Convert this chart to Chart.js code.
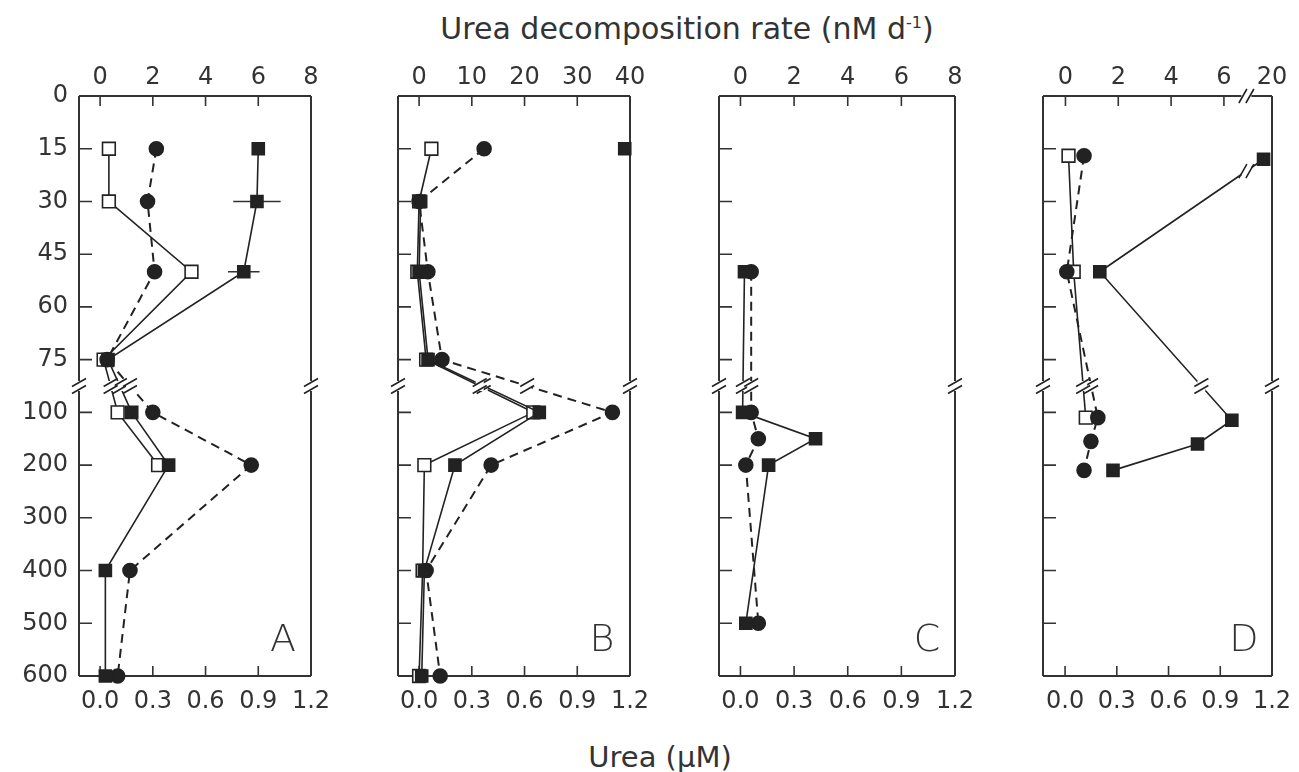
<!DOCTYPE html>
<html>
<head>
<meta charset="utf-8">
<script src="https://cdn.jsdelivr.net/npm/chart.js@4.4.0/dist/chart.umd.min.js"></script>
<style>
  body { margin: 0; background: #fff; width: 1299px; height: 772px; overflow: hidden; position: relative; font-family: "DejaVu Sans", sans-serif; color: #333; }
  .panel { position: absolute; top: 0; }
  .title { position: absolute; font-size: 30px; white-space: nowrap; transform: translate(-50%, -50%); }
  .title.low { font-size: 29px; }
  .title sup { font-size: 16px; }
</style>
</head>
<body>
<div class="title" style="left:687px;top:28px">Urea decomposition rate (nM d<sup>-1</sup>)</div>
<div class="title low" style="left:660px;top:757px">Urea (µM)</div>
<canvas class="panel" id="pA" width="340" height="772" style="left:0px"></canvas>
<canvas class="panel" id="pB" width="320" height="772" style="left:340px"></canvas>
<canvas class="panel" id="pC" width="320" height="772" style="left:660px"></canvas>
<canvas class="panel" id="pD" width="319" height="772" style="left:980px"></canvas>
<script>
// depth axis (broken between 75 and 100 m)
const depthTicks = [0, 15, 30, 45, 60, 75, 100, 200, 300, 400, 500, 600];
const ureaTicks = [0, 0.3, 0.6, 0.9, 1.2];
const rateTicksA = [0, 2, 4, 6, 8];
const rateTicksB = [0, 10, 20, 30, 40];
const rateTicksC = [0, 2, 4, 6, 8];
const rateTicksD = [0, 2, 4, 6, 20];

// A
const depthA = [15, 30, 50, 75, 100, 200, 400, 600];
const openA = [0.05, 0.05, 0.52, 0.02, 0.10, 0.33];
const circleA = [0.32, 0.27, 0.31, 0.04, 0.30, 0.86, 0.17, 0.10];
const rateA = [6.0, 5.95, 5.45, 0.3, 1.2, 2.6, 0.2, 0.2];
const rateErrA = [0, 0.9, 0.6, 0, 0, 0, 0, 0];

// B
const depthB = [15, 30, 50, 75, 100, 200, 400, 600];
const openB = [0.07, 0.0, -0.01, 0.04, 0.65, 0.03, 0.02, 0.0];
const circleB = [0.37, 0.0, 0.05, 0.13, 1.10, 0.41, 0.04, 0.12];
const rateB = [39, 0.3, 0.0, 1.7, 22.8, 6.8, 1.0, 0.5];

// C
const depthC = [50, 100, 150, 200, 500];
const circleC = [0.06, 0.06, 0.10, 0.03, 0.10];
const rateC = [0.15, 0.08, 2.8, 1.05, 0.2];

// D
const depthOpenD = [17, 50, 110];
const openD = [0.02, 0.05, 0.12];
const depthCircleD = [17, 50, 110, 155, 210];
const circleD = [0.11, 0.01, 0.19, 0.15, 0.11];
const depthRateD = [18, 50, 115, 160, 210];
const rateD = [19, 1.3, 6.3, 5.0, 1.8];

const INK = '#222';
const FONT = '"DejaVu Sans", sans-serif';

function depthPos(d) {
  if (d <= 75) return d / 15;
  return 6 + (d - 100) / 100;
}
// D rate axis is broken between 6 and 20
function ratePosD(v) {
  return v <= 7 ? v : 7.82 - (20 - v) * 0.32;
}
const ident = v => v;

function makeSet(depths, vals, kind, axis, posFn, extra) {
  const f = posFn || ident;
  const pts = vals.map((v, i) => ({ x: f(v), y: depthPos(depths[i]) }));
  const s = {
    data: pts, xAxisID: axis, showLine: true, clip: false,
    borderColor: INK, pointBorderColor: INK, borderWidth: 1.6, pointBorderWidth: 1.6
  };
  if (kind === 'open') Object.assign(s, { pointStyle: 'rect', pointRadius: 9, pointBackgroundColor: '#fff' });
  if (kind === 'filled') Object.assign(s, { pointStyle: 'rect', pointRadius: 8.5, pointBackgroundColor: INK });
  if (kind === 'circle') Object.assign(s, { pointStyle: 'circle', pointRadius: 7, pointBackgroundColor: INK, borderDash: [9, 6], borderWidth: 2 });
  return Object.assign(s, extra || {});
}

function breakMarkV(ctx, x, y) {
  ctx.save();
  ctx.fillStyle = '#fff';
  ctx.fillRect(x - 4, y - 5, 8, 10);
  ctx.strokeStyle = INK; ctx.lineWidth = 1.6;
  ctx.beginPath();
  [-3.5, 3.5].forEach(o => { ctx.moveTo(x - 7, y + o + 4); ctx.lineTo(x + 7, y + o - 4); });
  ctx.stroke();
  ctx.restore();
}
function breakMarkH(ctx, x, y) {
  ctx.save();
  ctx.fillStyle = '#fff';
  ctx.fillRect(x - 5, y - 4, 10, 8);
  ctx.strokeStyle = INK; ctx.lineWidth = 1.6;
  ctx.beginPath();
  [-3.5, 3.5].forEach(o => { ctx.moveTo(x + o - 4, y + 7); ctx.lineTo(x + o + 4, y - 7); });
  ctx.stroke();
  ctx.restore();
}

function framePlugin(p) {
  return {
    id: 'frame' + p.letter,
    beforeDatasetsDraw(chart) {
      const { ctx, chartArea: a, scales } = chart;
      const yB = scales.y.getPixelForValue(5.5);
      ctx.save();
      ctx.strokeStyle = '#333'; ctx.lineWidth = 2;
      ctx.beginPath();
      ctx.moveTo(a.left, a.top); ctx.lineTo(a.right, a.top);
      ctx.moveTo(a.left, a.bottom); ctx.lineTo(a.right, a.bottom);
      ctx.moveTo(a.left, a.top); ctx.lineTo(a.left, a.bottom);
      ctx.moveTo(a.right, a.top); ctx.lineTo(a.right, a.bottom);
      ctx.stroke();
      // inward ticks
      ctx.lineWidth = 1.6;
      ctx.beginPath();
      depthTicks.forEach((d, i) => {
        const y = scales.y.getPixelForValue(i);
        ctx.moveTo(a.left, y); ctx.lineTo(a.left + 13, y);
      });
      p.rateTicks.slice(0, 4).forEach(v => {
        const x = scales.x2.getPixelForValue(p.ratePos(v));
        ctx.moveTo(x, a.top); ctx.lineTo(x, a.top + 10);
      });
      ureaTicks.slice(0, 4).forEach(v => {
        const x = scales.x.getPixelForValue(v);
        ctx.moveTo(x, a.bottom); ctx.lineTo(x, a.bottom - 10);
      });
      ctx.stroke();
      // error bars
      if (p.err) {
        ctx.beginPath();
        p.err.vals.forEach((v, i) => {
          const e = p.err.errs[i];
          if (!e) return;
          const y = scales.y.getPixelForValue(depthPos(p.err.depths[i]));
          ctx.moveTo(scales.x2.getPixelForValue(v - e), y);
          ctx.lineTo(scales.x2.getPixelForValue(v + e), y);
        });
        ctx.stroke();
      }
      ctx.restore();
      breakMarkV(ctx, a.left, yB);
      breakMarkV(ctx, a.right, yB);
      if (p.xBreak != null) breakMarkH(ctx, scales.x2.getPixelForValue(p.xBreak), a.top);
      // panel letter
      ctx.save();
      ctx.fillStyle = '#333';
      ctx.font = '300 38px ' + FONT;
      ctx.textAlign = 'center'; ctx.textBaseline = 'middle';
      ctx.fillText(p.letter, a.right - 28, a.bottom - 35);
      ctx.restore();
    },
    afterDatasetsDraw(chart) {
      const { ctx, scales } = chart;
      const yB = scales.y.getPixelForValue(5.5);
      chart.data.datasets.forEach((ds, di) => {
        const els = chart.getDatasetMeta(di).data;
        for (let i = 1; i < els.length; i++) {
          if (ds.noFirstLine && i === 1) continue;
          const e0 = els[i - 1], e1 = els[i];
          if ((e0.y - yB) * (e1.y - yB) < 0) {
            const t = (yB - e0.y) / (e1.y - e0.y);
            breakMarkV(ctx, e0.x + t * (e1.x - e0.x), yB);
          }
          if (p.xBreak != null && ds.xAxisID === 'x2') {
            const xB = scales.x2.getPixelForValue(p.xBreak);
            if ((e0.x - xB) * (e1.x - xB) < 0) {
              const t = (xB - e0.x) / (e1.x - e0.x);
              breakMarkH(ctx, xB, e0.y + t * (e1.y - e0.y));
            }
          }
        }
      });
    }
  };
}

function makePanel(p) {
  const tickFont = { family: FONT, size: 24 };
  new Chart(document.getElementById(p.id), {
    type: 'scatter',
    data: { datasets: p.sets },
    options: {
      responsive: false, animation: false,
      layout: { padding: { left: p.padL, right: p.padR, top: 0, bottom: 0 } },
      plugins: { legend: { display: false }, tooltip: { enabled: false } },
      scales: {
        x: {
          type: 'linear', position: 'bottom', min: p.xMin, max: 1.2,
          grid: { display: false, drawTicks: false }, border: { display: false },
          afterBuildTicks: s => { s.ticks = ureaTicks.map(v => ({ value: v })); },
          afterFit: s => { s.height = 96; s.paddingLeft = 0; s.paddingRight = 0; },
          ticks: { padding: 11, font: tickFont, color: '#333', autoSkip: false, maxRotation: 0, callback: v => v.toFixed(1) }
        },
        x2: {
          type: 'linear', position: 'top', min: p.x2Min, max: p.x2Max,
          grid: { display: false, drawTicks: false }, border: { display: false },
          afterBuildTicks: s => { s.ticks = p.rateTicks.map(v => ({ value: p.ratePos(v) })); },
          afterFit: s => { s.height = 96; s.paddingLeft = 0; s.paddingRight = 0; },
          ticks: { padding: 4, font: tickFont, color: '#333', autoSkip: false, maxRotation: 0, callback: (v, i) => String(p.rateTicks[i]) }
        },
        y: {
          type: 'linear', reverse: true, min: 0, max: 11, display: p.showY,
          grid: { display: false, drawTicks: false }, border: { display: false },
          afterBuildTicks: s => { s.ticks = depthTicks.map((d, i) => ({ value: i })); },
          afterFit: s => { s.width = p.showY ? 79 : 0; },
          ticks: { padding: 11, font: tickFont, color: '#333', autoSkip: false, callback: (v, i) => String(depthTicks[i]) }
        }
      }
    },
    plugins: [framePlugin(p)]
  });
}

makePanel({
  id: 'pA', letter: 'A', padL: 0, padR: 29, showY: true, xMin: -0.12, x2Min: -0.8, x2Max: 8,
  rateTicks: rateTicksA, ratePos: ident,
  err: { depths: depthA, vals: rateA, errs: rateErrA },
  sets: [
    makeSet(depthA, rateA, 'filled', 'x2'),
    makeSet(depthA, circleA, 'circle', 'x'),
    makeSet(depthA.slice(0, openA.length), openA, 'open', 'x')
  ]
});

makePanel({
  id: 'pB', letter: 'B', padL: 58, padR: 30, showY: false, xMin: -0.12, x2Min: -4, x2Max: 40,
  rateTicks: rateTicksB, ratePos: ident,
  sets: [
    makeSet(depthB, rateB, 'filled', 'x2', null, {
      noFirstLine: true,
      segment: { borderColor: c => (c.p0DataIndex === 0 ? 'rgba(0,0,0,0)' : INK) }
    }),
    makeSet(depthB, circleB, 'circle', 'x'),
    makeSet(depthB, openB, 'open', 'x')
  ]
});

makePanel({
  id: 'pC', letter: 'C', padL: 59, padR: 25, showY: false, xMin: -0.12, x2Min: -0.8, x2Max: 8,
  rateTicks: rateTicksC, ratePos: ident,
  sets: [
    makeSet(depthC, rateC, 'filled', 'x2'),
    makeSet(depthC, circleC, 'circle', 'x')
  ]
});

makePanel({
  id: 'pD', letter: 'D', padL: 63, padR: 27, showY: false, xMin: -0.128, x2Min: -0.85, x2Max: 7.82,
  rateTicks: rateTicksD, ratePos: ratePosD, xBreak: 6.85,
  sets: [
    makeSet(depthRateD, rateD, 'filled', 'x2', ratePosD),
    makeSet(depthCircleD, circleD, 'circle', 'x'),
    makeSet(depthOpenD, openD, 'open', 'x')
  ]
});
</script>
</body>
</html>
